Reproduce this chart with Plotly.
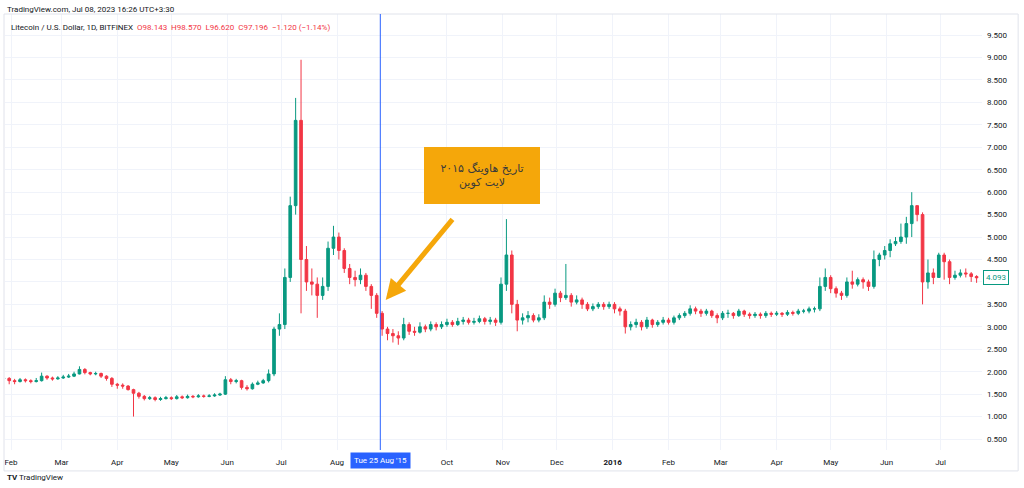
import pandas as pd
import plotly.graph_objects as go

# 3-day candles (LTC/USD, Bitfinex), open = previous close
start_date = "2015-01-28"
first_open = 1.85
close = [
    1.85, 1.80, 1.78, 1.82, 1.80, 1.78, 1.80, 1.90, 1.86, 1.84,
    1.86, 1.88, 1.90, 1.95, 2.05, 1.98, 1.95, 1.96, 1.90, 1.85,
    1.72, 1.70, 1.68, 1.60, 1.52, 1.45, 1.40, 1.42, 1.38, 1.40,
    1.42, 1.40, 1.44, 1.42, 1.45, 1.44, 1.46, 1.45, 1.46, 1.48,
    1.50, 1.82, 1.78, 1.80, 1.65, 1.62, 1.72, 1.75, 1.80, 1.95,
    2.95, 3.05, 4.10, 5.70, 7.60, 4.50, 4.00, 3.95, 3.70, 3.90,
    4.75, 5.00, 4.70, 4.30, 4.10, 4.05, 4.15, 3.90, 3.70, 3.30,
    2.95, 2.85, 2.80, 2.75, 3.05, 2.90, 2.88, 3.00, 2.95, 3.05,
    3.00, 3.05, 3.10, 3.05, 3.12, 3.15, 3.10, 3.12, 3.18, 3.12,
    3.15, 3.10, 3.95, 4.60, 3.50, 3.15, 3.20, 3.25, 3.15, 3.20,
    3.55, 3.50, 3.75, 3.65, 3.70, 3.55, 3.60, 3.50, 3.40, 3.45,
    3.50, 3.45, 3.50, 3.40, 3.35, 3.00, 3.05, 3.10, 3.00, 3.15,
    3.05, 3.10, 3.15, 3.10, 3.20, 3.25, 3.30, 3.40, 3.35, 3.30,
    3.35, 3.25, 3.20, 3.30, 3.30, 3.25, 3.35, 3.28, 3.25, 3.28,
    3.25, 3.30, 3.28, 3.30, 3.28, 3.32, 3.30, 3.35, 3.35, 3.40,
    3.40, 3.90, 4.10, 3.85, 3.75, 3.70, 4.00, 3.95, 4.05, 4.00,
    3.90, 4.50, 4.60, 4.70, 4.85, 4.90, 5.00, 5.30, 5.70, 5.50,
    4.00, 4.20, 4.10, 4.60, 4.45, 4.10, 4.15, 4.20, 4.18, 4.12,
    4.093,
]
high = [
    1.92, 1.88, 1.84, 1.86, 1.85, 1.83, 1.86, 1.98, 1.92, 1.89,
    1.90, 1.93, 1.95, 2.00, 2.12, 2.08, 2.00, 2.00, 1.98, 1.92,
    1.88, 1.75, 1.74, 1.70, 1.62, 1.55, 1.48, 1.46, 1.45, 1.44,
    1.46, 1.45, 1.48, 1.47, 1.49, 1.48, 1.50, 1.49, 1.50, 1.52,
    1.53, 1.90, 1.86, 1.84, 1.82, 1.70, 1.76, 1.80, 1.84, 2.05,
    3.00, 3.30, 4.30, 5.90, 8.10, 8.95, 4.80, 4.30, 4.10, 4.10,
    4.90, 5.25, 5.10, 4.75, 4.40, 4.25, 4.30, 4.20, 3.95, 3.75,
    3.35, 3.00, 2.95, 2.90, 3.20, 3.10, 3.00, 3.10, 3.05, 3.12,
    3.10, 3.12, 3.18, 3.15, 3.20, 3.22, 3.20, 3.20, 3.25, 3.22,
    3.22, 3.20, 4.10, 5.40, 4.70, 3.60, 3.30, 3.35, 3.30, 3.28,
    3.70, 3.65, 3.85, 3.80, 4.40, 3.75, 3.70, 3.65, 3.55, 3.52,
    3.55, 3.55, 3.56, 3.55, 3.45, 3.40, 3.12, 3.18, 3.15, 3.22,
    3.18, 3.15, 3.22, 3.20, 3.25, 3.30, 3.35, 3.48, 3.45, 3.40,
    3.40, 3.38, 3.30, 3.35, 3.38, 3.33, 3.40, 3.38, 3.32, 3.33,
    3.32, 3.35, 3.34, 3.35, 3.33, 3.37, 3.36, 3.40, 3.40, 3.45,
    3.45, 4.10, 4.30, 4.15, 3.90, 3.80, 4.10, 4.25, 4.10, 4.10,
    4.05, 4.70, 4.65, 4.80, 4.95, 5.00, 5.30, 5.45, 6.00, 5.70,
    5.55, 4.50, 4.30, 4.65, 4.65, 4.50, 4.25, 4.28, 4.30, 4.22,
    4.15,
]
low = [
    1.78, 1.72, 1.72, 1.76, 1.76, 1.74, 1.76, 1.78, 1.82, 1.80,
    1.82, 1.84, 1.86, 1.88, 1.94, 1.94, 1.92, 1.92, 1.86, 1.80,
    1.66, 1.62, 1.62, 1.58, 1.00, 1.40, 1.36, 1.37, 1.34, 1.35,
    1.38, 1.37, 1.38, 1.39, 1.40, 1.41, 1.42, 1.42, 1.43, 1.44,
    1.46, 1.48, 1.72, 1.74, 1.60, 1.58, 1.60, 1.70, 1.73, 1.76,
    1.90, 2.80, 2.95, 4.00, 5.50, 3.30, 3.80, 3.70, 3.20, 3.60,
    3.80, 4.60, 4.50, 4.20, 3.95, 3.90, 3.95, 3.80, 3.40, 3.20,
    2.80, 2.70, 2.65, 2.60, 2.70, 2.82, 2.80, 2.85, 2.88, 2.90,
    2.92, 2.95, 3.00, 3.00, 3.02, 3.05, 3.05, 3.05, 3.08, 3.05,
    3.05, 3.02, 3.05, 3.80, 3.30, 2.90, 3.05, 3.10, 3.10, 3.10,
    3.15, 3.40, 3.45, 3.55, 3.60, 3.45, 3.50, 3.40, 3.35, 3.35,
    3.40, 3.38, 3.40, 3.30, 3.25, 2.85, 2.92, 2.98, 2.92, 2.95,
    2.98, 3.00, 3.05, 3.05, 3.05, 3.15, 3.20, 3.25, 3.28, 3.22,
    3.25, 3.20, 3.08, 3.15, 3.20, 3.18, 3.22, 3.22, 3.18, 3.20,
    3.18, 3.20, 3.22, 3.24, 3.22, 3.24, 3.25, 3.26, 3.30, 3.30,
    3.32, 3.35, 3.80, 3.75, 3.65, 3.60, 3.65, 3.85, 3.90, 3.85,
    3.80, 3.85, 4.35, 4.50, 4.55, 4.80, 4.85, 4.85, 5.00, 5.35,
    3.50, 3.85, 3.95, 4.10, 4.05, 3.95, 4.05, 4.10, 4.10, 4.00,
    3.98,
]
price_ticks = [0.5, 1.0, 1.5, 2.0, 2.5, 3.0, 3.5, 4.0, 4.5, 5.0, 5.5, 6.0, 6.5, 7.0, 7.5, 8.0, 8.5, 9.0, 9.5]
month_ticks = ["2015-02-01", "2015-03-01", "2015-04-01", "2015-05-01", "2015-06-01", "2015-07-01",
               "2015-08-01", "2015-10-01", "2015-11-01", "2015-12-01", "2016-01-01", "2016-02-01",
               "2016-03-01", "2016-04-01", "2016-05-01", "2016-06-01", "2016-07-01"]
month_labels = ["Feb", "Mar", "Apr", "May", "Jun", "Jul", "Aug", "Oct", "Nov", "Dec", "<b>2016</b>",
                "Feb", "Mar", "Apr", "May", "Jun", "Jul"]
halving_date = "2015-08-25"
last_price = 4.093

dates = pd.date_range(start_date, periods=len(close), freq="3D")
opens = [first_open] + close[:-1]
high = [max(h, o, c) for h, o, c in zip(high, opens, close)]
low = [min(l, o, c) for l, o, c in zip(low, opens, close)]

GREEN = "#089981"
RED = "#f23645"

fig = go.Figure(go.Candlestick(
    x=dates, open=opens, high=high, low=low, close=close,
    increasing=dict(line=dict(color=GREEN, width=1), fillcolor=GREEN),
    decreasing=dict(line=dict(color=RED, width=1), fillcolor=RED),
    whiskerwidth=0, showlegend=False, hoverinfo="skip",
))

fig.update_layout(
    width=1024, height=488,
    margin=dict(l=5, r=42, t=14, b=38),
    paper_bgcolor="white", plot_bgcolor="white",
    font=dict(family="Roboto, DejaVu Sans", size=8, color="#131722"),
    showlegend=False,
)
fig.update_xaxes(
    range=["2015-01-28 16:00", "2016-07-24"],
    rangeslider_visible=False,
    tickvals=month_ticks, ticktext=month_labels, tickangle=0,
    showgrid=True, gridcolor="#f0f3fa", zeroline=False,
    ticks="", ticklabelstandoff=6, tickfont=dict(size=8, color="#131722"),
)
fig.update_yaxes(
    side="right", range=[0.255, 9.97],
    tickvals=price_ticks, ticktext=["%.3f" % v for v in price_ticks],
    showgrid=True, gridcolor="#f0f3fa", zeroline=False,
    ticks="", ticklabelstandoff=4, tickfont=dict(size=8, color="#131722"),
)

# pane border
fig.add_shape(type="rect", xref="paper", yref="paper", x0=-0.001, x1=1.037, y0=-0.048, y1=1.0,
              line=dict(color="#e0e3eb", width=1))

# halving line
fig.add_vline(x=halving_date, line_color="#2962ff", line_width=1)
fig.add_annotation(x=halving_date, y=-0.025, xref="x", yref="paper", yanchor="middle",
                   text="Tue 25 Aug '15", showarrow=False, bgcolor="#2962ff",
                   font=dict(color="white", size=8), borderpad=3)

# last price label
fig.add_annotation(x=1.0, y=last_price, xref="paper", yref="y", xanchor="left", xshift=1,
                   text="%.3f" % last_price, showarrow=False, bgcolor="white",
                   bordercolor=GREEN, borderwidth=1, borderpad=2,
                   font=dict(color=GREEN, size=8))

# callout arrow and box
fig.add_annotation(x="2015-08-28", y=3.6, ax=68, ay=-82, text="", showarrow=True,
                   arrowhead=2, arrowsize=0.8, arrowwidth=5, arrowcolor="#f5a70a")
fig.add_annotation(x=0.488, y=0.695, xref="paper", yref="paper",
                   text="تاریخ هاوینگ ۲۰۱۵<br>لایت کوین", showarrow=False,
                   bgcolor="#f5a70a", bordercolor="#f5a70a", borderpad=14, width=86,
                   font=dict(family="DejaVu Sans", size=11, color="#3a3a3a"))

# header / footer texts
fig.add_annotation(x=0, y=1.0, xref="paper", yref="paper", xanchor="left", yanchor="bottom", yshift=-2,
                   text="TradingView.com, Jul 08, 2023 16:26 UTC+3:30", showarrow=False,
                   font=dict(size=8, color="#131722"))
fig.add_annotation(x=0.004, y=0.985, xref="paper", yref="paper", xanchor="left", yanchor="top",
                   text="Litecoin / U.S. Dollar, 1D, BITFINEX  "
                        "<span style='color:#f23645'>O98.143  H98.570  L96.620  C97.196  −1.120 (−1.14%)</span>",
                   showarrow=False, font=dict(size=8, color="#131722"))
fig.add_annotation(x=0, y=-0.062, xref="paper", yref="paper", xanchor="left", yanchor="middle",
                   text="<b>TV</b> TradingView", showarrow=False, font=dict(size=8, color="#131722"))

# page has a default 8px body margin; drop it so the figure sits at 0,0
fig.write_html("out.html", config={"displayModeBar": False},
               post_script="document.body.style.margin='0';")
